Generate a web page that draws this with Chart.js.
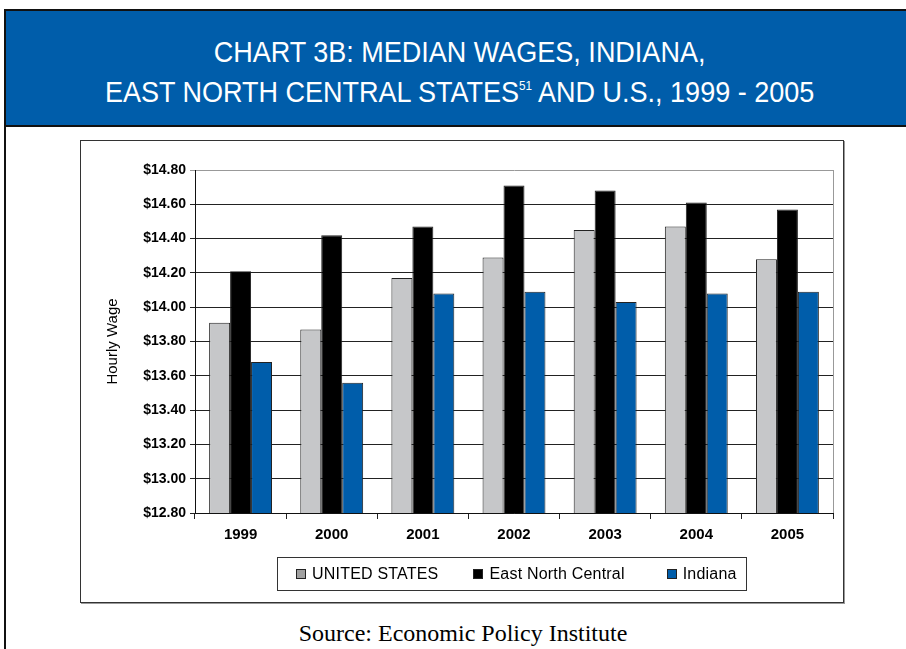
<!DOCTYPE html>
<html>
<head>
<meta charset="utf-8">
<script src="https://cdn.jsdelivr.net/npm/chart.js@4.4.1/dist/chart.umd.min.js"></script>
<style>
  body { margin: 0; background: #fff; width: 906px; height: 649px; overflow: hidden; position: relative; font-family: "Liberation Sans", Arial, sans-serif; }
  #frame { position: absolute; left: 4px; top: 9px; width: 920px; height: 700px; border: 2px solid #111; box-sizing: border-box; }
  #banner { position: absolute; left: 0; top: 0; right: 0; height: 114px; background: #005daa; border-bottom: 2px solid #111; }
  #banner div { position: absolute; left: 0; width: 906px; text-align: center; color: #fff; white-space: nowrap;
    font-family: "Liberation Sans", Arial, sans-serif; font-size: 30px; transform: scaleX(0.9); transform-origin: 459px 0; }
  #banner sup { font-size: 13px; vertical-align: 12px; line-height: 0; }
  #box { position: absolute; left: 80px; top: 140px; width: 764px; height: 463px; border: 1px solid #333; box-sizing: border-box; box-shadow: 1px 1px 0 #999; }
  #wrap { position: absolute; left: 0; top: 0; width: 762px; height: 461px; }
  #legend { position: absolute; left: 196px; top: 416px; width: 470px; height: 34px; border: 1px solid #333; box-sizing: border-box;
    font-size: 16px; color: #000; display: flex; align-items: center; padding-left: 18px; white-space: nowrap; }
  #legend span.item { display: inline-flex; align-items: center; margin-right: 35px; letter-spacing: 0.2px; }
  #legend span.item:nth-child(2) { margin-right: 42px; }
  #legend i { display: inline-block; width: 10px; height: 10px; border: 1px solid #222; box-sizing: border-box; margin-right: 6px; }
  #source { position: absolute; left: 0; width: 926px; top: 620px; text-align: center; font-family: "Liberation Serif", "Times New Roman", serif; font-size: 24px; color: #000; }
</style>
</head>
<body>
<div id="frame">
  <div id="banner">
    <div style="top:24px">CHART 3B: MEDIAN WAGES, INDIANA,</div>
    <div style="top:64px">EAST NORTH CENTRAL STATES<sup>51</sup> AND U.S., 1999 - 2005</div>
  </div>
</div>
<div id="box">
  <div id="wrap"><canvas id="barChart"></canvas></div>
  <div id="legend"></div>
</div>
<div id="source">Source: Economic Policy Institute</div>

<script>
var years = ['1999', '2000', '2001', '2002', '2003', '2004', '2005'];
var seriesNames = ['UNITED STATES', 'East North Central', 'Indiana'];
var usWages = [13.91, 13.87, 14.17, 14.29, 14.45, 14.47, 14.28];
var encWages = [14.21, 14.42, 14.47, 14.71, 14.68, 14.61, 14.57];
var indianaWages = [13.68, 13.56, 14.08, 14.09, 14.03, 14.08, 14.09];
var barColors = ['#c6c7c9', '#000000', '#005daa'];
var swatchColors = ['#a0a0a0', '#000000', '#005daa'];

var font = '"Liberation Sans", Arial, sans-serif';

// right edge of the plot is a grey frame line
var plotFrame = {
    id: 'plotFrame',
    afterDraw: function (chart) {
        var a = chart.chartArea, c = chart.ctx;
        c.save();
        c.strokeStyle = '#999';
        c.lineWidth = 1;
        c.beginPath();
        c.moveTo(Math.round(a.right) + 0.5, a.top);
        c.lineTo(Math.round(a.right) + 0.5, a.bottom);
        c.stroke();
        c.restore();
    }
};

document.addEventListener('DOMContentLoaded', function () {
    var ctx = document.getElementById('barChart').getContext('2d');
    var values = [usWages, encWages, indianaWages];

    var datasets = seriesNames.map(function (name, i) {
        return {
            label: name,
            data: values[i],
            backgroundColor: barColors[i],
            borderColor: '#222',
            borderWidth: 1,
            borderSkipped: false,
            categoryPercentage: 0.69,
            barPercentage: 1.0
        };
    });

    var legend = document.getElementById('legend');
    seriesNames.forEach(function (name, i) {
        var s = document.createElement('span');
        s.className = 'item';
        s.innerHTML = '<i style="background:' + swatchColors[i] + '"></i>' + name;
        legend.appendChild(s);
    });

    new Chart(ctx, {
        type: 'bar',
        data: { labels: years, datasets: datasets },
        plugins: [plotFrame],
        options: {
            responsive: true,
            maintainAspectRatio: false,
            animation: false,
            layout: { padding: { left: 0, top: 29, right: 10, bottom: 49 } },
            plugins: { legend: { display: false }, tooltip: { enabled: false } },
            scales: {
                x: {
                    offset: true,
                    grid: { offset: true, drawOnChartArea: false, color: '#222', tickLength: 6 },
                    border: { color: '#111', width: 1 },
                    ticks: { color: '#000', font: { family: font, size: 15, weight: 'bold' }, padding: 7 },
                    afterFit: function (s) { s.height = 40; }
                },
                y: {
                    min: 12.8,
                    max: 14.8,
                    grid: {
                        color: function (c) { return c.index === 10 ? '#999' : '#222'; },
                        tickLength: 5
                    },
                    border: { color: '#111', width: 1 },
                    ticks: {
                        stepSize: 0.2,
                        color: '#000',
                        padding: 4,
                        font: { family: font, size: 14, weight: 'bold' },
                        callback: function (v) { return '$' + Number(v).toFixed(2); }
                    },
                    title: {
                        display: true,
                        text: 'Hourly Wage',
                        color: '#000',
                        font: { family: font, size: 15 },
                        padding: { top: 23, bottom: 0 }
                    },
                    afterFit: function (s) { s.width = 114; }
                }
            }
        }
    });
});
</script>
</body>
</html>
